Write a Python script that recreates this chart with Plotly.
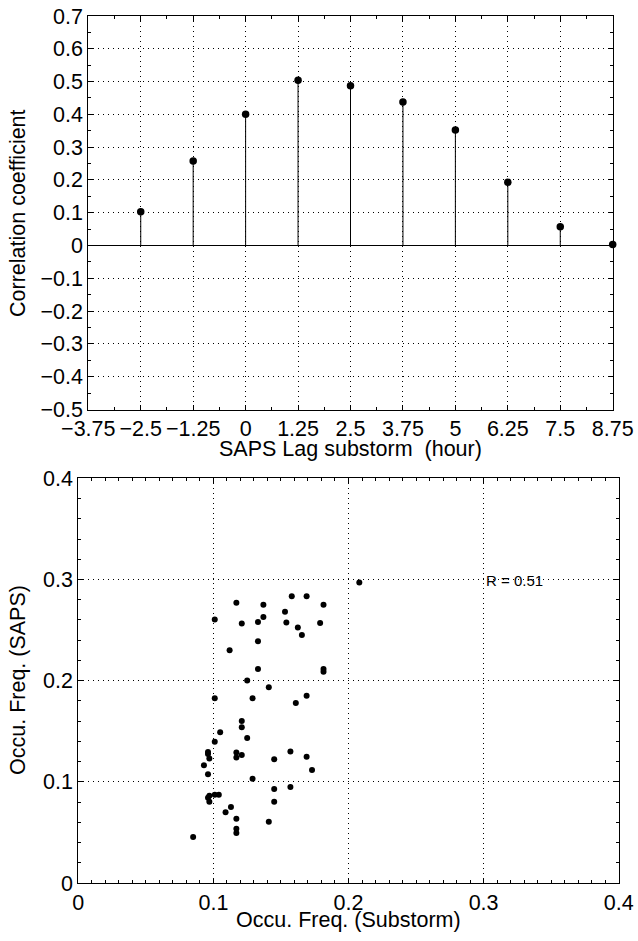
import plotly.graph_objects as go

# ---- Top panel data: lag correlation (stem plot)
lag_hours = [-2.5, -1.25, 0, 1.25, 2.5, 3.75, 5, 6.25, 7.5, 8.75]
corr_coef = [0.103, 0.258, 0.400, 0.504, 0.487, 0.438, 0.352, 0.193, 0.057, 0.003]
lag_tickvals = [-3.75, -2.5, -1.25, 0, 1.25, 2.5, 3.75, 5, 6.25, 7.5, 8.75]
lag_ticktext = ["\u22123.75", "\u22122.5", "\u22121.25", "0", "1.25", "2.5", "3.75",
                "5", "6.25", "7.5", "8.75"]
corr_tickvals = [-0.5, -0.4, -0.3, -0.2, -0.1, 0, 0.1, 0.2, 0.3, 0.4, 0.5, 0.6, 0.7]
corr_ticktext = ["\u22120.5", "\u22120.4", "\u22120.3", "\u22120.2", "\u22120.1", "0",
                 "0.1", "0.2", "0.3", "0.4", "0.5", "0.6", "0.7"]

# ---- Bottom panel data: occurrence frequency scatter
freq_substorm = [0.158, 0.169, 0.117, 0.137, 0.1815, 0.153, 0.137, 0.101, 0.133, 0.121,
                 0.154, 0.179, 0.1625, 0.1655, 0.133, 0.112, 0.133, 0.1815, 0.1815, 0.125,
                 0.141, 0.101, 0.129, 0.169, 0.161, 0.121, 0.121, 0.105, 0.125, 0.101,
                 0.096, 0.096, 0.117, 0.117, 0.121, 0.097, 0.157, 0.145, 0.169, 0.093,
                 0.173, 0.096, 0.129, 0.157, 0.145, 0.101, 0.104, 0.097, 0.096, 0.097,
                 0.145, 0.113, 0.109, 0.117, 0.141, 0.117, 0.117, 0.085, 0.208]
freq_saps = [0.2835, 0.2835, 0.277, 0.275, 0.275, 0.268, 0.263, 0.2605, 0.258, 0.2565,
             0.2575, 0.257, 0.2525, 0.245, 0.239, 0.230, 0.2114, 0.2114, 0.2087, 0.2002,
             0.1936, 0.1827, 0.1827, 0.185, 0.178, 0.160, 0.154, 0.149, 0.1432, 0.1395,
             0.1296, 0.1274, 0.129, 0.124, 0.1264, 0.123, 0.130, 0.1224, 0.1247, 0.1165,
             0.1116, 0.1076, 0.103, 0.095, 0.0928, 0.0872, 0.0872, 0.0862, 0.0842, 0.0802,
             0.0802, 0.075, 0.070, 0.0634, 0.0605, 0.0536, 0.0493, 0.0454, 0.297]
freq_ticks = [0, 0.1, 0.2, 0.3, 0.4]
freq_ticktext = ["0", "0.1", "0.2", "0.3", "0.4"]
r_label = "R = 0.51"

W, H = 638, 941
FONT = "Liberation Sans, Arial, Helvetica, sans-serif"
FS = 21.5
GRID_DASH = "1px,4px"


def px_x(p):
    return p / W


def px_y(p):
    return 1 - p / H


# stems built from the data
stem_x, stem_y = [], []
for xv, yv in zip(lag_hours, corr_coef):
    stem_x += [xv, xv, None]
    stem_y += [0, yv, None]

fig = go.Figure()
fig.add_trace(go.Scatter(x=stem_x, y=stem_y, mode="lines",
                         line=dict(color="black", width=1), xaxis="x", yaxis="y",
                         hoverinfo="skip", showlegend=False))
fig.add_trace(go.Scatter(x=lag_hours, y=corr_coef, mode="markers",
                         marker=dict(color="black", size=7.5), xaxis="x", yaxis="y",
                         showlegend=False, cliponaxis=False))
fig.add_trace(go.Scatter(x=freq_substorm, y=freq_saps, mode="markers",
                         marker=dict(color="black", size=6), xaxis="x2", yaxis="y2",
                         showlegend=False))

common = dict(showline=True, linecolor="black", linewidth=1, mirror="ticks",
              ticks="inside", ticklen=5, tickcolor="black", tickwidth=1,
              showgrid=True, gridcolor="black", gridwidth=1, griddash=GRID_DASH,
              tickfont=dict(family=FONT, size=FS, color="black"), zeroline=False,
              automargin=False, tickangle=0)

fig.update_layout(
    width=W, height=H, margin=dict(l=0, r=0, t=0, b=0, autoexpand=False),
    paper_bgcolor="white", plot_bgcolor="white", showlegend=False,
    font=dict(family=FONT, size=FS, color="black"),
    xaxis=dict(domain=[px_x(88.3), px_x(612.7)], range=[-3.75, 8.75],
               tickmode="array", tickvals=lag_tickvals, ticktext=lag_ticktext,
               minor=dict(ticks="inside", ticklen=3, tickcolor="black",
                          tick0=-3.75, dtick=0.625, showgrid=False),
               anchor="y", **common),
    yaxis=dict(domain=[px_y(409.5), px_y(16)], range=[-0.5, 0.7],
               tickmode="array", tickvals=corr_tickvals, ticktext=corr_ticktext,
               minor=dict(ticks="inside", ticklen=3, tickcolor="black",
                          tick0=-0.5, dtick=0.05, showgrid=False),
               anchor="x", **{**common, "zeroline": True},
               zerolinecolor="black", zerolinewidth=1),
    xaxis2=dict(domain=[px_x(78.3), px_x(618.7)], range=[0, 0.4],
                tickmode="array", tickvals=freq_ticks, ticktext=freq_ticktext,
                minor=dict(ticks="inside", ticklen=3, tickcolor="black",
                           tick0=0, dtick=0.01, showgrid=False),
                anchor="y2", **common),
    yaxis2=dict(domain=[px_y(883), px_y(478.3)], range=[0, 0.4],
                tickmode="array", tickvals=freq_ticks, ticktext=freq_ticktext,
                minor=dict(ticks="inside", ticklen=3, tickcolor="black",
                           tick0=0, dtick=0.02, showgrid=False),
                anchor="x2", **common),
)

ann = [
    dict(text="Correlation coefficient", x=px_x(18), y=px_y(213), textangle=-90),
    dict(text="SAPS Lag substorm\u00a0 (hour)", x=px_x(350), y=px_y(449)),
    dict(text="Occu. Freq. (SAPS)", x=px_x(18), y=px_y(680), textangle=-90),
    dict(text="Occu. Freq. (Substorm)", x=px_x(348), y=px_y(920)),
]
for a in ann:
    fig.add_annotation(xref="paper", yref="paper", showarrow=False,
                       xanchor="center", yanchor="middle",
                       font=dict(family=FONT, size=FS, color="black"), **a)

fig.add_annotation(xref="x2", yref="y2", x=0.3, y=0.2985, text=r_label,
                   showarrow=False, xanchor="left", yanchor="middle",
                   font=dict(family=FONT, size=15, color="black"))

fig.write_html("out.html")
